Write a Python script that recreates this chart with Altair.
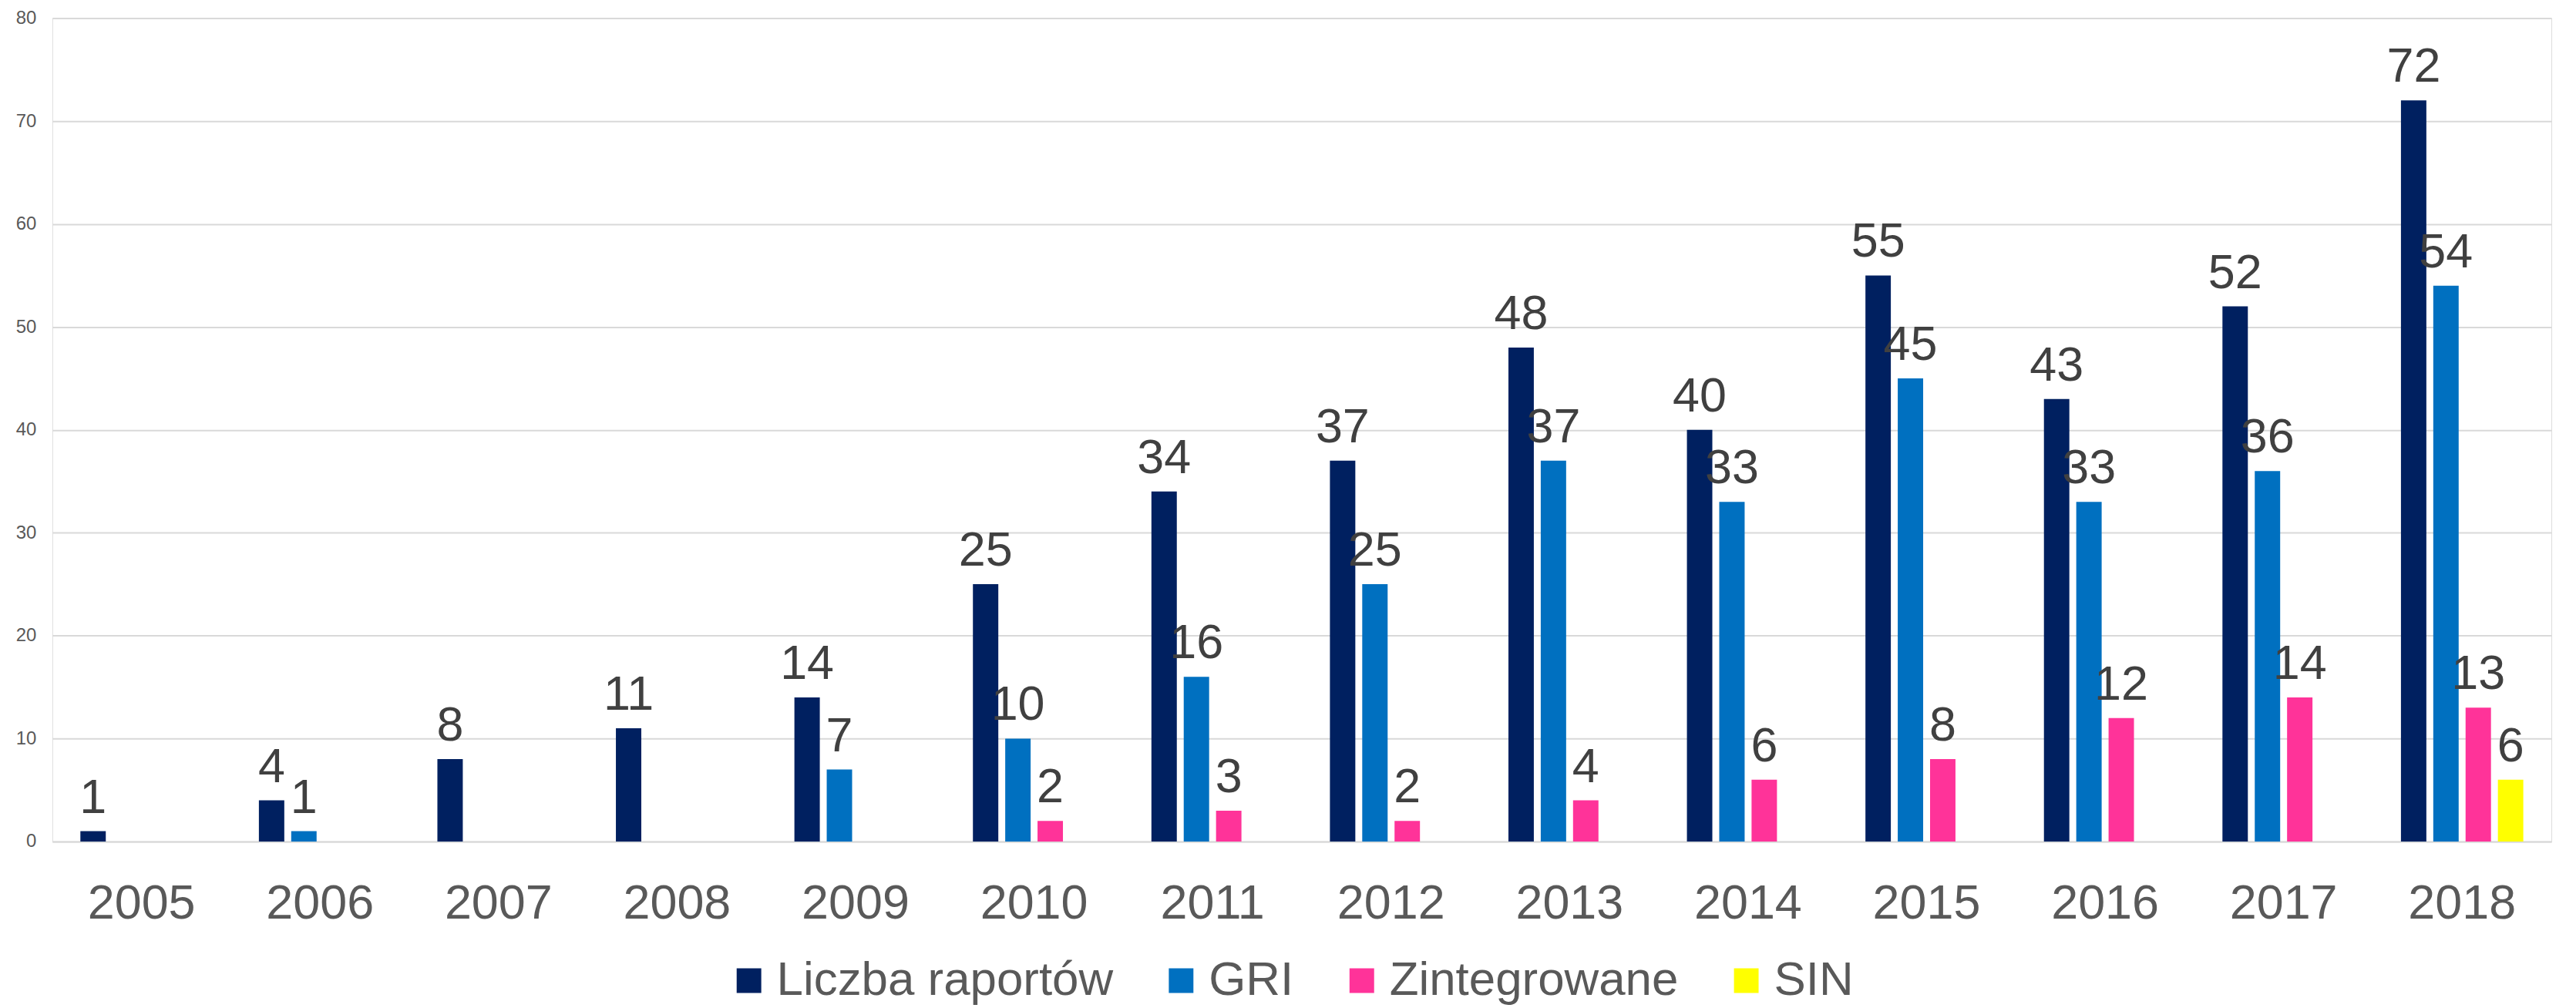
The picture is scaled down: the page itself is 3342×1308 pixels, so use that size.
import altair as alt
import pandas as pd

years = ["2005", "2006", "2007", "2008", "2009", "2010", "2011",
         "2012", "2013", "2014", "2015", "2016", "2017", "2018"]
series = ["Liczba raportów", "GRI", "Zintegrowane", "SIN"]
colors = ["#002060", "#0070C0", "#FF3399", "#FFFF00"]

liczba = [1, 4, 8, 11, 14, 25, 34, 37, 48, 40, 55, 43, 52, 72]
gri = [None, 1, None, None, 7, 10, 16, 25, 37, 33, 45, 33, 36, 54]
zint = [None, None, None, None, None, 2, 3, 2, 4, 6, 8, 12, 14, 13]
sin = [None, None, None, None, None, None, None, None, None, None, None, None, None, 6]

rows = []
for name, vals in zip(series, [liczba, gri, zint, sin]):
    for y, v in zip(years, vals):
        if v is not None:
            rows.append({"rok": y, "seria": name, "wartosc": v})
df = pd.DataFrame(rows)

FONT = "Liberation Sans"

x = alt.X("rok:N", sort=years, scale=alt.Scale(domain=years, paddingInner=0, paddingOuter=0),
          axis=alt.Axis(title=None, labelAngle=0, labelFontSize=63, labelColor="#595959",
                        labelFont=FONT, labelPadding=100, labelBaseline="alphabetic",
                        ticks=False, domainColor="#D9D9D9", domainWidth=2, grid=False,
                        labelLimit=1000))
xo = alt.XOffset("seria:N", sort=series,
                 scale=alt.Scale(domain=series, paddingInner=0.214, paddingOuter=0.869))
y = alt.Y("wartosc:Q", scale=alt.Scale(domain=[0, 80], nice=False),
          axis=alt.Axis(title=None, values=list(range(0, 81, 10)), labelFontSize=24,
                        labelColor="#595959", labelFont=FONT, labelPadding=21,
                        ticks=False, domain=False, gridColor="#D9D9D9", gridWidth=2))

color = alt.Color("seria:N", sort=series,
                  scale=alt.Scale(domain=series, range=colors),
                  legend=alt.Legend(title=None, orient="none", direction="horizontal",
                                    columns=4, legendX=875, legendY=1221,
                                    symbolType="square", symbolSize=1024, symbolStrokeWidth=0,
                                    labelFontSize=62, labelFont=FONT, labelColor="#595959",
                                    labelOffset=5, columnPadding=57, labelLimit=2000,
                                    padding=0))

bars = alt.Chart(df).mark_bar().encode(x=x, xOffset=xo, y=y, color=color)
labels = alt.Chart(df).mark_text(fontSize=63, font=FONT, color="#404040",
                                 baseline="alphabetic", dy=-24).encode(
    x=x, xOffset=xo, y=y, text=alt.Text("wartosc:Q"))

chart = (bars + labels).properties(
    width=3250, height=1071,
    autosize=alt.AutoSizeParams(type="none"),
    padding={"left": 60, "top": 14, "right": 24, "bottom": 215},
).configure_view(stroke=None).configure(background="white")

chart.save("out.html", embed_options={"renderer": "svg", "actions": False})
